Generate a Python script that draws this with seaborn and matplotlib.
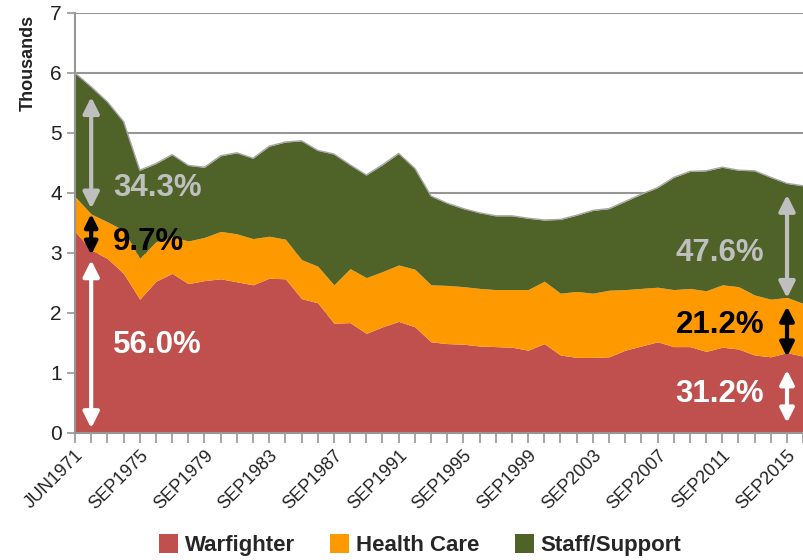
import numpy as np
import pandas as pd
import matplotlib
matplotlib.use('Agg')
import matplotlib.pyplot as plt
from matplotlib.patches import Patch
import seaborn as sns

# 数据（千人），读自原图
months = ['JUN1971'] + ['SEP%d' % y for y in range(1972, 2017)]

warfighter = [3.36, 3.05, 2.91, 2.66, 2.23, 2.53, 2.66, 2.49, 2.54, 2.57,
              2.52, 2.47, 2.58, 2.57, 2.24, 2.17, 1.83, 1.84, 1.66, 1.77,
              1.86, 1.77, 1.52, 1.49, 1.48, 1.45, 1.44, 1.43, 1.38, 1.49,
              1.30, 1.26, 1.26, 1.27, 1.38, 1.45, 1.52, 1.44, 1.44, 1.36,
              1.43, 1.40, 1.30, 1.27, 1.34, 1.28]
health_care = [0.58, 0.60, 0.61, 0.72, 0.68, 0.66, 0.61, 0.71, 0.72, 0.79,
               0.80, 0.77, 0.70, 0.66, 0.65, 0.61, 0.64, 0.90, 0.93, 0.92,
               0.94, 0.96, 0.95, 0.97, 0.96, 0.96, 0.95, 0.96, 1.01, 1.04,
               1.03, 1.10, 1.07, 1.11, 1.01, 0.96, 0.91, 0.95, 0.97, 1.01,
               1.04, 1.04, 1.00, 0.96, 0.92, 0.88]
staff_support = [2.06, 2.12, 2.00, 1.81, 1.47, 1.30, 1.37, 1.26, 1.17, 1.26,
                 1.35, 1.34, 1.50, 1.62, 1.98, 1.93, 2.18, 1.73, 1.71, 1.78,
                 1.86, 1.68, 1.48, 1.37, 1.30, 1.26, 1.23, 1.23, 1.19, 1.02,
                 1.23, 1.27, 1.38, 1.36, 1.47, 1.57, 1.66, 1.87, 1.95, 2.00,
                 1.96, 1.94, 2.07, 2.03, 1.90, 1.96]

series_names = ['Warfighter', 'Health Care', 'Staff/Support']
colors = ['#C0504D', '#FF9900', '#4F6228']

# 左右两端的百分比标注
left_pcts = ['56.0%', '9.7%', '34.3%']
right_pcts = ['31.2%', '21.2%', '47.6%']

df = pd.DataFrame({'month': months, 'Warfighter': warfighter,
                   'Health Care': health_care, 'Staff/Support': staff_support})
df['pos'] = np.arange(len(df))
df['total'] = df[series_names].sum(axis=1)

sns.set_theme(style='white')
plt.rcParams['font.family'] = ['Liberation Sans', 'DejaVu Sans']

fig = plt.figure(figsize=(8.04, 5.60), dpi=100)
ax = fig.add_axes([75 / 804, 1 - 433 / 560, 729 / 804, 420 / 560])

ax.stackplot(df['pos'], df['Warfighter'], df['Health Care'], df['Staff/Support'],
             colors=colors, linewidth=0, zorder=2)
sns.lineplot(data=df, x='pos', y='total', ax=ax, color='#A6A6A6', linewidth=1.0, zorder=3)

ax.set_xlim(0, 45.05)
ax.set_ylim(0, 7)
ax.set_yticks(range(0, 8))
ax.yaxis.grid(True, color='#969696', linewidth=1.5, zorder=1)
ax.xaxis.grid(False)
ax.set_axisbelow(True)

ax.set_xticks(df['pos'])
ax.set_xticklabels([m if i % 4 == 0 else '' for i, m in enumerate(months)],
                   rotation=45, ha='right', rotation_mode='anchor',
                   fontsize=13, color='#222222')
ax.tick_params(axis='x', direction='out', length=7, width=1.2, color='#969696',
               bottom=True, pad=3)
ax.tick_params(axis='y', direction='out', length=6, width=1.2, color='#969696',
               left=True, labelsize=15, labelcolor='#222222')
for s in ['top', 'right']:
    ax.spines[s].set_visible(False)
for s in ['left', 'bottom']:
    ax.spines[s].set_color('#969696')
    ax.spines[s].set_linewidth(1.5)
ax.set_xlabel('')
ax.set_ylabel('')

fig.text(28 / 804, 1 - 63 / 560, 'Thousands', rotation=90, ha='center', va='center',
         fontsize=13, fontweight='bold', color='#222222')

# 双向箭头和百分比
def darrow(x, y0, y1, color, ms=24):
    ax.annotate('', xy=(x, y0), xytext=(x, y1),
                arrowprops=dict(arrowstyle='<|-|>', color=color, lw=3,
                                mutation_scale=ms, shrinkA=0, shrinkB=0), zorder=5)

txt_colors = ['white', 'black', '#BFBFBF']
darrow(1, 0.08, 2.88, 'white')
darrow(1, 2.97, 3.65, 'black', ms=19)
darrow(1, 3.74, 5.60, '#BFBFBF')
darrow(44, 0.17, 1.05, 'white', ms=21)
darrow(44, 1.27, 2.11, 'black', ms=21)
darrow(44, 2.25, 3.97, '#BFBFBF')

for label, yv, c in zip(left_pcts, [1.47, 3.19, 4.08], txt_colors):
    ax.text(2.35, yv, label, ha='left', va='center', fontsize=22.5,
            fontweight='bold', color=c, zorder=6)
for label, yv, c in zip(right_pcts, [0.65, 1.80, 3.00], txt_colors):
    ax.text(42.6, yv, label, ha='right', va='center', fontsize=22.5,
            fontweight='bold', color=c, zorder=6)

handles = [Patch(facecolor=c, edgecolor='none') for c in colors]
fig.legend(handles, series_names, loc='center', bbox_to_anchor=(420 / 804, 1 - 545 / 560),
           ncol=3, frameon=False, handlelength=0.85, handleheight=0.95, handletextpad=0.3,
           columnspacing=1.6, prop={'size': 16, 'weight': 'bold'})

fig.savefig('out.png', dpi=100)
